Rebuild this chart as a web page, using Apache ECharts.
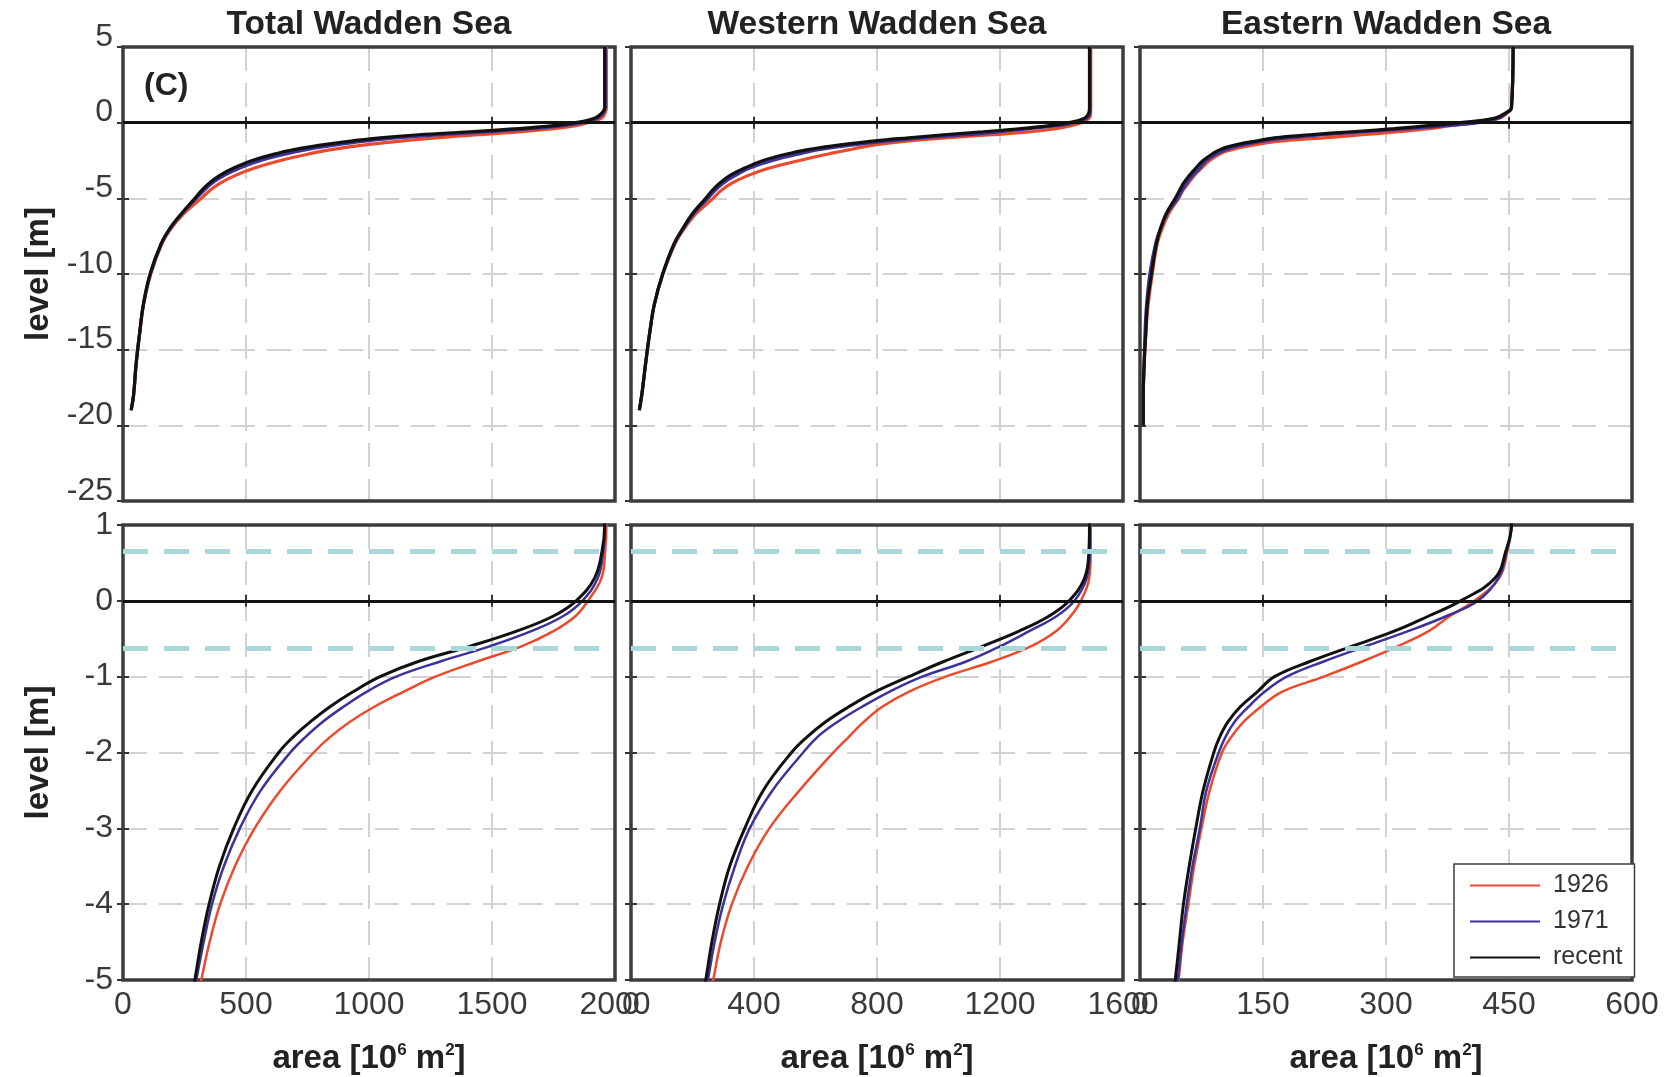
<!DOCTYPE html>
<html>
<head>
<meta charset="utf-8">
<script src="https://cdn.jsdelivr.net/npm/echarts@6/dist/echarts.min.js"></script>
<style>
  html, body { margin: 0; padding: 0; background: #ffffff; }
  #chart { width: 1677px; height: 1077px; }
</style>
</head>
<body>
<div id="chart"></div>
<script>
// ---------------- DATA ----------------
const regions = ['Total Wadden Sea', 'Western Wadden Sea', 'Eastern Wadden Sea'];
const years = ['1926', '1971', 'recent'];

// levels [m] at which hypsometric areas were read
const levels = [5, 1, 0.65, 0.3, 0, -0.2, -0.4, -0.6, -0.8, -1.0, -1.2, -1.4, -1.6, -1.8, -2.0,
                -2.5, -3.0, -3.5, -4.0, -4.5, -5, -6, -7, -8, -10, -12, -14, -16, -18, -19, -20];

// area [10^6 m^2] — Total Wadden Sea
const total1926   = [1965, 1965, 1960, 1945, 1890, 1840, 1750, 1620, 1440, 1270, 1140, 1020, 920, 840, 775,
                     640, 535, 455, 395, 352, 318, 248, 195, 158, 113, 84, 67, 53, 43, 33, null];
const total1971   = [1960, 1960, 1952, 1930, 1867, 1790, 1660, 1490, 1290, 1110, 990, 895, 810, 740, 680,
                     560, 475, 410, 362, 328, 298, 240, 191, 156, 111, 83, 67, 53, 43, 33, null];
const totalRecent = [1958, 1958, 1947, 1917, 1842, 1750, 1600, 1410, 1200, 1045, 935, 840, 760, 690, 633,
                     525, 450, 392, 350, 318, 292, 238, 190, 155, 110, 83, 67, 53, 43, 33, null];

// Western Wadden Sea
const west1926   = [1495, 1495, 1495, 1490, 1463, 1430, 1382, 1300, 1175, 1023, 903, 816, 756, 707, 658,
                    548, 450, 380, 328, 292, 267, 212, 173, 143, 104, 76, 60, 47, 35, 27, null];
const west1971   = [1493, 1493, 1492, 1482, 1442, 1385, 1295, 1200, 1090, 947, 840, 750, 670, 605, 560,
                    460, 386, 338, 300, 272, 250, 204, 170, 141, 103, 76, 60, 47, 35, 27, null];
const westRecent = [1491, 1491, 1489, 1475, 1425, 1360, 1262, 1143, 1017, 903, 794, 707, 631, 571, 522,
                    430, 370, 321, 288, 263, 243, 200, 168, 140, 103, 76, 60, 47, 35, 27, null];

// Eastern Wadden Sea
const east1926   = [455, 453, 448, 438, 408, 378, 352, 314, 271, 224, 173, 147, 126, 111, 100,
                    85, 75, 66, 59, 52, 47, 35, 27, 21, 15, 10, 7, 5, 4, 4, 4];
const east1971   = [455, 453, 447, 437, 412, 374, 327, 275, 224, 179, 152, 132, 115, 104, 96,
                    81, 73, 64, 57, 51, 46, 33, 25, 19, 12, 8, 6, 5, 4, 4, 4];
const eastRecent = [455, 453, 446, 433, 391, 352, 310, 258, 207, 164, 143, 122, 107, 97, 90,
                    77, 68, 60, 53, 48, 43, 32, 25, 20, 14, 9, 7, 5, 4, 4, 4];

// axis ranges / ticks
const xMax  = [2000, 1600, 600];
const xStep = [500, 400, 150];
const yTopRange    = [-25, 5, 5];   // min, max, step
const yBottomRange = [-5, 1, 1];
// tidal reference levels (dashed cyan lines)
const refLevels = [0.65, -0.63];

// ---------------- LAYOUT / STYLE ----------------
const FONT = '"Liberation Sans", Arial, Helvetica, sans-serif';
const colLeft = [123, 631, 1140];
const colW = 492;
const rowTop = [47, 525];
const rowH = [454, 455];
const seriesColors = ['#ec4a2c', '#3b3399', '#111111'];
const seriesWidths = [2.5, 2.5, 3];
const regionData = [
  [total1926, total1971, totalRecent],
  [west1926, west1971, westRecent],
  [east1926, east1971, eastRecent]
];

const grids = [], xAxes = [], yAxes = [], series = [];
const labelColor = '#3a3a3a';
const tickStyle = { color: '#333', width: 2 };
const gridLine = { color: '#d2d2d2', width: 2, type: [24, 12] };
const plain = v => String(v);

for (let r = 0; r < 2; r++) {
  const yr = r === 0 ? yTopRange : yBottomRange;
  for (let c = 0; c < 3; c++) {
    const i = r * 3 + c;
    grids.push({
      left: colLeft[c], top: rowTop[r], width: colW, height: rowH[r], z: 1,
      show: true, borderColor: '#3c3c3c', borderWidth: 3.5, backgroundColor: 'transparent'
    });
    const xa = {
      gridIndex: i, type: 'value', min: 0, max: xMax[c], interval: xStep[c], position: 'bottom',
      axisLine: { show: false },
      axisTick: { show: true, inside: true, length: 6, lineStyle: tickStyle },
      axisLabel: { show: r === 1, fontSize: 32, color: labelColor, fontFamily: FONT, margin: 9, formatter: plain },
      splitLine: { show: true, lineStyle: gridLine }
    };
    if (r === 1) {
      xa.name = 'area [10{sup|6} m{sup|2}]';
      xa.nameLocation = 'middle';
      xa.nameGap = 62;
      xa.nameTextStyle = {
        fontSize: 33, fontWeight: 'bold', color: '#222', fontFamily: FONT,
        rich: { sup: { fontSize: 17, fontWeight: 'bold', color: '#222', fontFamily: FONT, verticalAlign: 'top' } }
      };
    }
    xAxes.push(xa);
    xAxes.push({
      gridIndex: i, type: 'value', min: 0, max: xMax[c], interval: xStep[c], position: 'top',
      axisLine: { show: false },
      axisTick: { show: true, inside: true, length: 6, lineStyle: tickStyle },
      axisLabel: { show: false }, splitLine: { show: false }
    });
    const yLabel = { show: c === 0, fontSize: 32, color: labelColor, fontFamily: FONT, margin: 10, formatter: plain };
    if (r === 0) { yLabel.verticalAlign = 'bottom'; yLabel.lineHeight = 20; }
    const ya = {
      gridIndex: i, type: 'value', min: yr[0], max: yr[1], interval: yr[2], position: 'left',
      axisLine: { show: false },
      axisTick: { show: true, inside: true, length: 6, lineStyle: tickStyle },
      axisLabel: yLabel,
      splitLine: { show: true, lineStyle: gridLine }
    };
    if (c === 0) {
      ya.name = 'level [m]';
      ya.nameLocation = 'middle';
      ya.nameGap = 68;
      ya.nameTextStyle = { fontSize: 33, fontWeight: 'bold', color: '#222', fontFamily: FONT };
    }
    yAxes.push(ya);
    yAxes.push({
      gridIndex: i, type: 'value', min: yr[0], max: yr[1], interval: yr[2], position: 'right',
      axisLine: { show: false },
      axisTick: { show: true, inside: true, length: 6, lineStyle: tickStyle },
      axisLabel: { show: false }, splitLine: { show: false }
    });

    for (let k = 0; k < 3; k++) {
      const arr = regionData[c][k];
      const pts = [];
      levels.forEach((lv, j) => { if (arr[j] !== null) pts.push([arr[j], lv]); });
      const s = {
        type: 'line', name: years[k], xAxisIndex: 2 * i, yAxisIndex: 2 * i,
        data: pts, symbol: 'none', showSymbol: false, smooth: 0.4,
        lineStyle: { color: seriesColors[k], width: r === 0 ? 3.2 : seriesWidths[k] },
        itemStyle: { color: seriesColors[k] },
        z: 2 + k, silent: true, animation: false, clip: true
      };
      if (k === 2) {
        const ml = [{ yAxis: 0, lineStyle: { color: '#111', width: 3, type: 'solid' } }];
        if (r === 1) {
          refLevels.forEach(v => ml.push({ yAxis: v, lineStyle: { color: '#a9d8da', width: 5, type: [25, 16] } }));
        }
        s.markLine = { symbol: ['none', 'none'], silent: true, animation: false, label: { show: false }, data: ml, z: 6 };
      }
      series.push(s);
    }
  }
}

const graphics = [];
regions.forEach((t, c) => {
  graphics.push({
    type: 'text', x: colLeft[c] + colW / 2, y: 25, silent: true,
    style: { text: t, font: 'bold 33.5px ' + FONT, fill: '#222',
             textAlign: 'center', textVerticalAlign: 'middle', align: 'center', verticalAlign: 'middle' }
  });
});
graphics.push({
  type: 'text', x: 144, y: 86, silent: true, z: 10,
  style: { text: '(C)', font: 'bold 32px ' + FONT, fill: '#222',
           textAlign: 'left', textVerticalAlign: 'middle', align: 'left', verticalAlign: 'middle' }
});

const option = {
  backgroundColor: '#ffffff',
  animation: false,
  grid: grids,
  xAxis: xAxes,
  yAxis: yAxes,
  series: series,
  graphic: graphics,
  legend: {
    data: years, orient: 'vertical', left: 1454, top: 864,
    icon: 'rect', itemWidth: 70, itemHeight: 2, itemGap: 11,
    padding: [9, 12, 7, 16],
    backgroundColor: '#ffffff', borderColor: '#3c3c3c', borderWidth: 1.5, borderRadius: 0,
    textStyle: { fontSize: 25, color: '#333', fontFamily: FONT, padding: [0, 0, 0, 8] },
    selectedMode: false, z: 10
  }
};

const chart = echarts.init(document.getElementById('chart'), null, { renderer: 'canvas' });
chart.setOption(option);
</script>
</body>
</html>
